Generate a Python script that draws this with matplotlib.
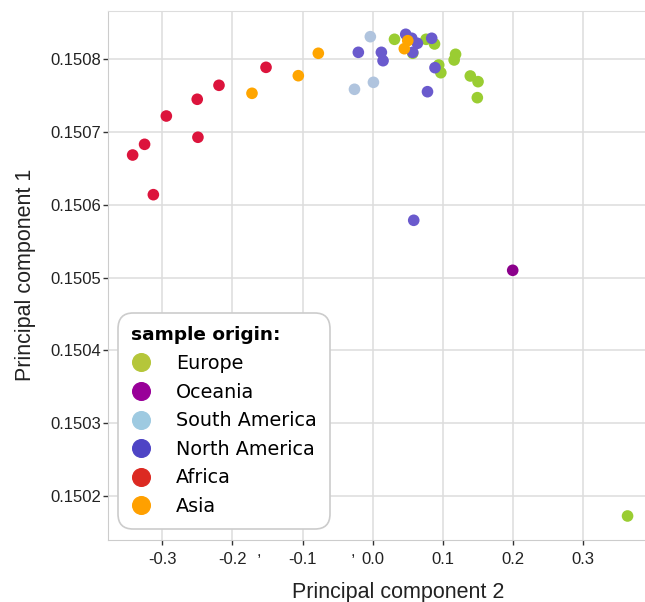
import matplotlib
matplotlib.use("Agg")
import matplotlib.pyplot as plt
from matplotlib.lines import Line2D
from matplotlib.ticker import FixedLocator, FixedFormatter

# Datos (PC2 en x, PC1 en y)
regiones = ["Europe", "Oceania", "South America", "North America", "Africa", "Asia"]
colores_puntos = ["#9acd32", "#8b008b", "#b0c4de", "#6a5acd", "#dc143c", "#ffa500"]
colores_leyenda = ["#b5c63a", "#990099", "#9ecae1", "#4e44c5", "#dc2a22", "#ffa000"]

europe_pc2 = [0.031, 0.057, 0.076, 0.088, 0.094, 0.097, 0.118, 0.116, 0.139, 0.150, 0.149, 0.363]
europe_pc1 = [0.1508275, 0.1508083, 0.1508275, 0.1508211, 0.1507922, 0.1507816,
              0.1508069, 0.1507991, 0.1507771, 0.1507693, 0.1507473, 0.1501725]

oceania_pc2 = [0.1994]
oceania_pc1 = [0.1505101]

south_america_pc2 = [-0.0034, -0.026, 0.001]
south_america_pc1 = [0.1508311, 0.1507588, 0.1507684]

north_america_pc2 = [-0.0205, 0.0123, 0.0147, 0.047, 0.0556, 0.057, 0.0636, 0.084, 0.0887, 0.078, 0.0584]
north_america_pc1 = [0.1508096, 0.1508096, 0.1507981, 0.1508344, 0.1508289, 0.1508096,
                     0.150822, 0.1508289, 0.1507885, 0.1507555, 0.1505788]

africa_pc2 = [-0.342, -0.325, -0.3125, -0.294, -0.250, -0.249, -0.219, -0.152]
africa_pc1 = [0.1506685, 0.1506832, 0.150614, 0.1507221, 0.1507451, 0.1506929, 0.1507643, 0.150789]

asia_pc2 = [-0.172, -0.106, -0.0775, 0.0499, 0.045]
asia_pc1 = [0.1507533, 0.1507775, 0.1508083, 0.1508256, 0.1508146]

datos_x = [europe_pc2, oceania_pc2, south_america_pc2, north_america_pc2, africa_pc2, asia_pc2]
datos_y = [europe_pc1, oceania_pc1, south_america_pc1, north_america_pc1, africa_pc1, asia_pc1]

marcas_x = [-0.3, -0.2, -0.1, 0.0, 0.1, 0.2, 0.3]
marcas_y = [0.1502, 0.1503, 0.1504, 0.1505, 0.1506, 0.1507, 0.1508]
comas_x = [-0.1617, -0.0283]  # comas sueltas bajo el eje x

plt.rcParams["font.family"] = ["Liberation Sans", "DejaVu Sans"]

fig = plt.figure(figsize=(6.45, 6.02), dpi=100)
# el eje se sale un poco por la derecha, como en la imagen original
ax = fig.add_axes([108 / 645, 62 / 602, 580 / 645, 529.3 / 602])

for xs, ys, color in zip(datos_x, datos_y, colores_puntos):
    ax.scatter(xs, ys, s=70, color=color, edgecolors="none", zorder=3)

ax.set_xlim(-0.3771, 0.4491)
ax.set_ylim(0.1501395, 0.1508668)

ax.set_xticks(marcas_x)
ax.set_xticklabels([f"{v:.1f}" for v in marcas_x])
ax.set_yticks(marcas_y)
ax.set_yticklabels([f"{v:.4f}" for v in marcas_y])
ax.xaxis.set_minor_locator(FixedLocator(comas_x))
ax.xaxis.set_minor_formatter(FixedFormatter([",", ","]))
ax.tick_params(axis="x", which="minor", length=0, pad=3, labelsize=12, labelcolor="#222222")

ax.tick_params(which="major", length=3.5, width=1, color="#333333",
               labelsize=12, labelcolor="#222222")
ax.tick_params(axis="x", which="major", pad=5)
ax.tick_params(axis="y", which="major", pad=1.5)

ax.grid(color="#dddddd", linewidth=1.1, zorder=0)
ax.set_axisbelow(True)
for lado in ["left", "bottom"]:
    ax.spines[lado].set_color("#cccccc")
ax.spines["top"].set_color("#dddddd")
ax.spines["right"].set_visible(False)

ax.set_xlabel("Principal component 2", fontsize=15.5, color="#222222")
ax.set_ylabel("Principal component 1", fontsize=15.5, color="#222222")
ax.xaxis.set_label_coords((398 - 108) / 580, -(582 - 540) / 529.3)
ax.yaxis.set_label_coords((36 - 108) / 580, 0.5)

# Leyenda
manijas = [Line2D([], [], marker="o", linestyle="", markersize=12.7,
                  markerfacecolor=c, markeredgecolor=c) for c in colores_leyenda]
leg = ax.legend(manijas, regiones, title="sample origin:", loc="lower left",
                bbox_to_anchor=(10 / 580, 11 / 529.3), borderaxespad=0,
                prop={"family": "DejaVu Sans", "size": 13.8},
                title_fontproperties={"family": "DejaVu Sans", "weight": "bold", "size": 13.3},
                alignment="left", frameon=True, fancybox=True, framealpha=1,
                edgecolor="#cccccc", handlelength=1.0, handletextpad=1.35,
                borderpad=0.68, labelspacing=0.5)
leg.get_frame().set_boxstyle("round,pad=0,rounding_size=0.8")
leg.get_frame().set_linewidth(1.2)
leg.set_zorder(5)

plt.savefig("out.png", dpi=100)
